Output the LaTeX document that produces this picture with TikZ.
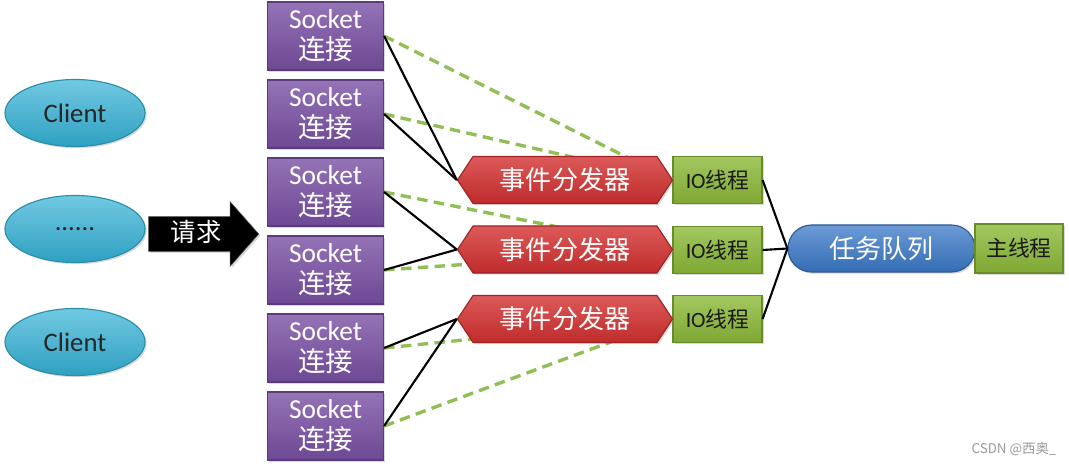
\documentclass[tikz,border=0pt]{standalone}
\usepackage{fontspec}
\setmainfont{Carlito}
\newfontfamily\cjk{Noto Sans CJK SC}
\usetikzlibrary{shapes.geometric,shapes.symbols,shapes.misc,shapes.arrows,shadows}
\definecolor{cliC}{RGB}{52,178,214}
\definecolor{sockC}{RGB}{122,80,164}
\definecolor{dispC}{RGB}{212,48,48}
\definecolor{ioC}{RGB}{140,186,56}
\definecolor{queC}{RGB}{58,120,200}
\definecolor{dashC}{RGB}{146,190,86}
\begin{document}
\begin{tikzpicture}[
  x=0.025cm, y=-0.025cm,
    shad/.style={drop shadow={opacity=0.3, shadow xshift=1.2pt, shadow yshift=-1.2pt}},
    cli/.style={ellipse, draw=cliC!80!black, line width=0.8pt, shad, top color=cliC!70!white,
                bottom color=cliC!90!black, minimum width=3.5cm, minimum height=1.675cm,
                inner sep=0pt, font=\fontsize{19}{21}\selectfont, text=black!85},
    sock/.style={draw=sockC!75!black, line width=0.8pt, shad, top color=sockC!80!white,
                bottom color=sockC!90!black, minimum width=2.9cm, minimum height=1.7cm,
                inner sep=0pt, align=center, text=white,
                font=\fontsize{19.5}{22}\selectfont},
    disp/.style={signal, signal to=west and east, signal pointer angle=113,
                draw=dispC!75!black, line width=0.8pt, shad, top color=dispC!80!white,
                bottom color=dispC!90!black, minimum width=5.375cm, minimum height=1.175cm,
                inner sep=0pt, text=white, font=\cjk\fontsize{18.5}{20}\selectfont},
    iobox/.style={draw=ioC!75!black, line width=0.8pt, shad, top color=ioC!80!white,
                bottom color=ioC!90!black, minimum width=2.225cm, minimum height=1.175cm,
                inner sep=0pt, text=black!90, font=\fontsize{15.5}{17}\selectfont},
    que/.style={rounded rectangle, draw=queC!75!black, line width=0.8pt, shad,
                top color=queC!75!white, bottom color=queC!90!black,
                minimum width=4.675cm, minimum height=1.175cm, inner sep=0pt,
                text=white, font=\cjk\fontsize{18.5}{20}\selectfont},
    req/.style={single arrow, single arrow head extend=0.375cm, single arrow tip angle=97,
                fill=black, draw=black!70, shad, minimum height=2.75cm, inner sep=0pt,
                text height=0.6cm, text depth=0.25cm, text=white,
                font=\cjk\fontsize{18}{20}\selectfont},
    link/.style={line width=1.5pt, black},
    dlink/.style={line width=2.4pt, dashC, dash pattern=on 7.5pt off 4.5pt},
    wm/.style={font=\cjk\fontsize{9.5}{10}\selectfont, text=black!40},
]
\useasboundingbox (0,0) rectangle (1069,466);
\node[cli] (c1) at (75,113) {Client};
\node[cli] (c2) at (75,229) {......};
\node[cli] (c3) at (75,342) {Client};
\node[req] (rq) at (196,234) {请求};
\node[sock] (s1) at (325.5,36) {Socket\\{\cjk 连接}};
\node[sock] (s2) at (325.5,114) {Socket\\{\cjk 连接}};
\node[sock] (s3) at (325.5,192) {Socket\\{\cjk 连接}};
\node[sock] (s4) at (325.5,270) {Socket\\{\cjk 连接}};
\node[sock] (s5) at (325.5,348) {Socket\\{\cjk 连接}};
\node[sock] (s6) at (325.5,426) {Socket\\{\cjk 连接}};
\node[iobox] (io1) at (717.5,180) {IO{\cjk 线程}};
\node[iobox] (io2) at (717.5,250) {IO{\cjk 线程}};
\node[iobox] (io3) at (717.5,319) {IO{\cjk 线程}};
\draw[dlink] (s1.east) -- (io1.west);
\draw[dlink] (s2.east) -- (io1.west);
\draw[dlink] (s3.east) -- (io2.west);
\draw[dlink] (s4.east) -- (io2.west);
\draw[dlink] (s5.east) -- (io3.west);
\draw[dlink] (s6.east) -- (io3.west);
\node[disp] (d1) at (565,180) {事件分发器};
\node[disp] (d2) at (565,249.5) {事件分发器};
\node[disp] (d3) at (565,319) {事件分发器};
\draw[link] (s1.east) -- (d1.west);
\draw[link] (s2.east) -- (d1.west);
\draw[link] (s3.east) -- (d2.west);
\draw[link] (s4.east) -- (d2.west);
\draw[link] (s5.east) -- (d3.west);
\draw[link] (s6.east) -- (d3.west);
\node[que] (q) at (881.5,248.5) {任务队列};
\node[iobox, minimum width=2.2cm, minimum height=1.225cm] (m) at (1019,248.5) {\cjk 主线程};
\draw[link] (io1.east) -- (q.west);
\draw[link] (io2.east) -- (q.west);
\draw[link] (io3.east) -- (q.west);
\node[wm] (wmk) at (1014,449) {CSDN @西奥\_};
\end{tikzpicture}
\end{document}
